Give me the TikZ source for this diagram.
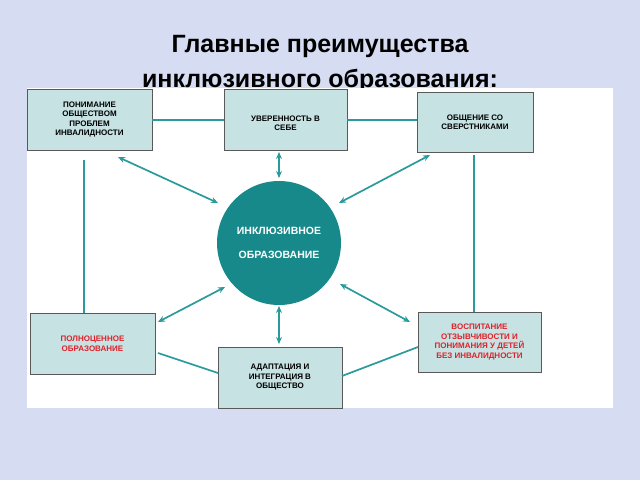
\documentclass[tikz,border=0pt]{standalone}
\usepackage{fontspec}
\setmainfont{Liberation Sans}
\usetikzlibrary{arrows.meta}
\definecolor{bg}{HTML}{D6DDF2}
\definecolor{tl}{HTML}{2A9A9A}
\definecolor{circ}{HTML}{17898A}
\definecolor{boxf}{HTML}{C6E2E2}
\definecolor{rd}{HTML}{E0202A}
\begin{document}
\begin{tikzpicture}[x=1pt,y=-1pt,
  bx/.style={draw=gray!70!black,line width=0.8pt,fill=boxf,align=center,font=\bfseries\fontsize{8}{9.5}\selectfont,inner sep=1pt},
  ln/.style={draw=tl,line width=1.7pt},
  ar/.style={ln,{Stealth[length=7pt,width=6pt]}-{Stealth[length=7pt,width=6pt]}}]
\fill[bg] (0,0) rectangle (640,480);
\node[font=\bfseries\fontsize{25}{35}\selectfont,align=center] (title) at (320,64) {Главные преимущества\\ инклюзивного образования:};
\fill[white] (27,88) rectangle (613,408);
\node[bx,minimum width=125pt,minimum height=61pt] (tl) at (89.5,119.5) {ПОНИМАНИЕ\\ОБЩЕСТВОМ\\ПРОБЛЕМ\\ИНВАЛИДНОСТИ};
\node[bx,minimum width=123pt,minimum height=61pt,anchor=north] (tc) at (285.5,89) {\rule{0pt}{12pt}УВЕРЕННОСТЬ В\\СЕБЕ};
\node[bx,minimum width=116pt,minimum height=60pt] (tr) at (475,122) {ОБЩЕНИЕ СО\\СВЕРСТНИКАМИ};
\node[bx,minimum width=125pt,minimum height=61pt,text=rd] (bl) at (92.5,343.5) {ПОЛНОЦЕННОЕ\\ОБРАЗОВАНИЕ};
\node[bx,minimum width=124pt,minimum height=61pt] (bc) at (280,377.5) {АДАПТАЦИЯ И\\ИНТЕГРАЦИЯ В\\ОБЩЕСТВО};
\node[bx,minimum width=123pt,minimum height=60pt,text=rd] (br) at (479.5,342) {ВОСПИТАНИЕ\\ОТЗЫВЧИВОСТИ И\\ПОНИМАНИЯ У ДЕТЕЙ\\БЕЗ ИНВАЛИДНОСТИ};
\node[circle,fill=circ,minimum size=124pt,text=white,align=center,font=\bfseries\fontsize{10.5}{24}\selectfont] (c) at (279,243) {ИНКЛЮЗИВНОЕ\\ОБРАЗОВАНИЕ};
\coordinate (a1) at (84,160); \coordinate (a2) at (84,313);
\coordinate (b1) at (474,155); \coordinate (b2) at (474,312);
\draw[ln] (tl.east|-0,120) -- (tc.west|-0,120);
\draw[ln] (tc.east|-0,120) -- (tr.west|-0,120);
\draw[ln] (a1) -- (a2);
\draw[ln] (b1) -- (b2);
\draw[ln] (158,353) -- (218,373);
\draw[ln] (342,376) -- (418,347);
\coordinate (p1) at (118,157); \coordinate (q1) at (218,203);
\coordinate (p2) at (279,152); \coordinate (q2) at (279,178);
\coordinate (p3) at (430,155); \coordinate (q3) at (339,203);
\coordinate (p4) at (158,322); \coordinate (q4) at (225,287);
\coordinate (p5) at (279,344); \coordinate (q5) at (279,306);
\coordinate (p6) at (410,322); \coordinate (q6) at (340,284);
\foreach \i in {1,...,6} \draw[ar] (p\i) -- (q\i);
\end{tikzpicture}
\end{document}
